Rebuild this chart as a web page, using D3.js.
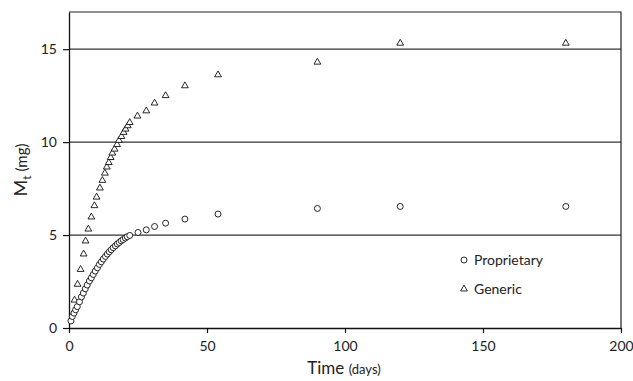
<!DOCTYPE html>
<html>
<head>
<meta charset="utf-8">
<script src="https://cdn.jsdelivr.net/npm/d3@7"></script>
<style>
  body { margin: 0; background: #fff; }
  svg { display: block; font-family: Lato, "Open Sans", sans-serif; }
  .tick text { font-size: 14px; fill: #222; }
</style>
</head>
<body>
<div id="chart"></div>
<script>
// release data (days, mg)
const propDays = [0.7, 1.2, 1.8, 2.4, 3.0, 3.8, 4.5, 5.2, 5.9, 6.6, 7.4, 8.1, 8.8, 9.5, 10.3, 11.0,
  11.7, 12.4, 13.2, 13.9, 14.6, 15.3, 16.0, 16.8, 17.5, 18.2, 18.9, 19.6, 20.4, 21.1, 22.0,
  25, 28, 31, 35, 42, 54, 90, 120, 180];
const propValues = [0.38, 0.62, 0.8, 0.98, 1.15, 1.41, 1.67, 1.88, 2.11, 2.31, 2.53, 2.70, 2.88, 3.06, 3.24, 3.42,
  3.56, 3.71, 3.85, 3.98, 4.10, 4.21, 4.32, 4.42, 4.52, 4.60, 4.69, 4.76, 4.84, 4.91, 4.98,
  5.14, 5.28, 5.46, 5.64, 5.86, 6.13, 6.43, 6.54, 6.54];

const genDays = [2.0, 3.1, 4.2, 5.3, 6.0, 7.0, 8.1, 9.2, 10.0, 11.2, 12.1, 13.0, 13.7, 14.4, 15.1, 15.7,
  16.5, 17.4, 18.1, 19.0, 19.8, 20.5, 21.3, 22.0, 24.8, 28, 31, 35, 42, 54, 90, 120, 180];
const genValues = [1.5, 2.35, 3.15, 3.98, 4.68, 5.32, 5.97, 6.58, 7.04, 7.53, 7.94, 8.33, 8.66, 8.9, 9.17, 9.41,
  9.62, 9.87, 10.09, 10.3, 10.52, 10.7, 10.88, 11.05, 11.4, 11.68, 12.1, 12.5, 13.03, 13.62, 14.3, 15.32, 15.32];

const xTicks = [0, 50, 100, 150, 200];
const yTicks = [0, 5, 10, 15];

const width = 633, height = 381;
const margin = { top: 12, right: 12, bottom: 53, left: 69 };

const svg = d3.select('#chart').append('svg')
  .attr('width', width)
  .attr('height', height);

const x = d3.scaleLinear().domain([0, 200]).range([margin.left, width - margin.right]);
const y = d3.scaleLinear().domain([0, 17]).range([height - margin.bottom, margin.top]);

// gridlines at 5, 10, 15
svg.append('g')
  .selectAll('line')
  .data(yTicks.filter(d => d > 0))
  .join('line')
  .attr('x1', x(0)).attr('x2', x(200))
  .attr('y1', d => y(d)).attr('y2', d => y(d))
  .attr('stroke', '#333')
  .attr('stroke-width', 1.2);

// frame top + right
svg.append('path')
  .attr('d', `M${x(0)},${y(17)}H${x(200)}V${y(0)}`)
  .attr('fill', 'none')
  .attr('stroke', '#222')
  .attr('stroke-width', 1.2);

const xAxis = svg.append('g')
  .attr('transform', `translate(0,${y(0)})`)
  .call(d3.axisBottom(x).tickValues(xTicks).tickSize(5).tickPadding(8).tickSizeOuter(0));

const yAxis = svg.append('g')
  .attr('transform', `translate(${x(0)},0)`)
  .call(d3.axisLeft(y).tickValues(yTicks).tickSize(6).tickPadding(6).tickSizeOuter(0));

[xAxis, yAxis].forEach(g => {
  g.select('.domain').attr('stroke', '#111').attr('stroke-width', 1.3);
  g.selectAll('.tick line').attr('stroke', '#111').attr('stroke-width', 1.2);
  g.attr('font-family', null).attr('font-size', null);
});

// markers
svg.append('g')
  .selectAll('path')
  .data(genDays.map((d, i) => [d, genValues[i]]))
  .join('path')
  .attr('d', d3.symbol(d3.symbolTriangle, 20))
  .attr('transform', d => `translate(${x(d[0])},${y(d[1])})`)
  .attr('fill', '#fff')
  .attr('stroke', '#111')
  .attr('stroke-width', 0.9);

svg.append('g')
  .selectAll('circle')
  .data(propDays.map((d, i) => [d, propValues[i]]))
  .join('circle')
  .attr('cx', d => x(d[0]))
  .attr('cy', d => y(d[1]))
  .attr('r', 3)
  .attr('fill', '#fff')
  .attr('stroke', '#111')
  .attr('stroke-width', 0.9);

// legend
const legend = svg.append('g').attr('font-size', 14).attr('fill', '#222');
legend.append('circle')
  .attr('cx', 464).attr('cy', 260).attr('r', 3)
  .attr('fill', '#fff').attr('stroke', '#111').attr('stroke-width', 0.9);
legend.append('text').attr('x', 474).attr('y', 265).text('Proprietary');
legend.append('path')
  .attr('d', d3.symbol(d3.symbolTriangle, 20))
  .attr('transform', 'translate(464,289)')
  .attr('fill', '#fff').attr('stroke', '#111').attr('stroke-width', 0.9);
legend.append('text').attr('x', 474).attr('y', 294).text('Generic');

// axis titles
const xTitle = svg.append('text')
  .attr('x', 344).attr('y', 374)
  .attr('text-anchor', 'middle')
  .attr('fill', '#222');
xTitle.append('tspan').attr('font-size', 17).text('Time ');
xTitle.append('tspan').attr('font-size', 13).text('(days)');

const yTitle = svg.append('text')
  .attr('transform', 'translate(27,170) rotate(-90)')
  .attr('text-anchor', 'middle')
  .attr('fill', '#222')
  .attr('font-size', 18);
yTitle.append('tspan').text('M');
yTitle.append('tspan').attr('font-size', 12).attr('dy', 4).text('t');
yTitle.append('tspan').attr('font-size', 15).attr('dy', -4).text(' (mg)');
</script>
</body>
</html>
